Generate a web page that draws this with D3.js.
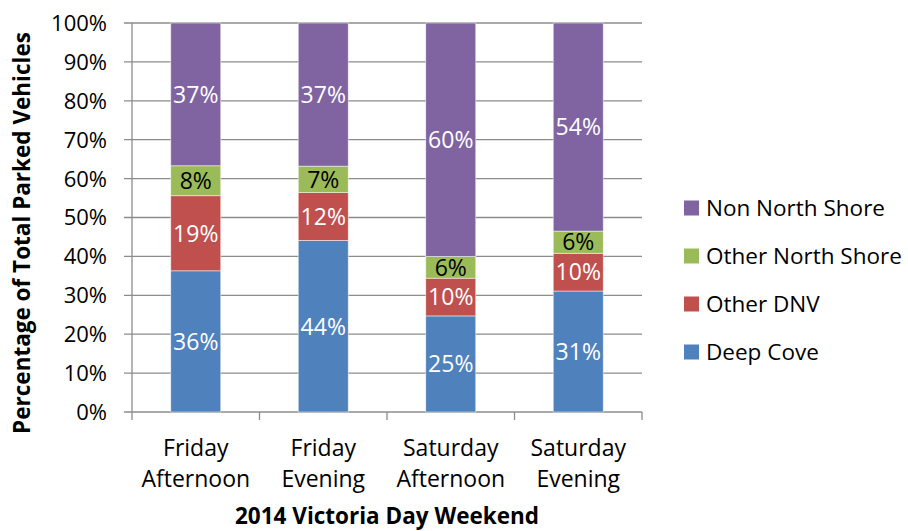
<!DOCTYPE html>
<html>
<head>
<meta charset="utf-8">
<script src="https://cdn.jsdelivr.net/npm/d3@7"></script>
<style>
  body { margin: 0; background: #fff; }
  svg text { font-family: "Open Sans", "Noto Sans", sans-serif; }
</style>
</head>
<body>
<svg id="chart" width="908" height="531"></svg>
<script>
const categories = [["Friday", "Afternoon"], ["Friday", "Evening"], ["Saturday", "Afternoon"], ["Saturday", "Evening"]];
const seriesNames = ["Deep Cove", "Other DNV", "Other North Shore", "Non North Shore"];
const deepCove = [36.3, 44.1, 24.7, 31.1];
const otherDNV = [19.3, 12.3, 9.7, 9.7];
const otherNorthShore = [7.7, 6.8, 5.6, 5.7];
const nonNorthShore = [36.7, 36.8, 60.0, 53.5];
const yTicks = [0, 10, 20, 30, 40, 50, 60, 70, 80, 90, 100];
const colors = ["#4F81BD", "#C0504D", "#9BBB59", "#8064A2"];
const labelColors = ["#fff", "#fff", "#000", "#fff"];
const xTitle = "2014 Victoria Day Weekend";
const yTitle = "Percentage of Total Parked Vehicles";

(function () {
const seriesValues = [deepCove, otherDNV, otherNorthShore, nonNorthShore];
const table = categories.map((c, i) => {
  const row = { key: i };
  seriesNames.forEach((s, j) => row[s] = seriesValues[j][i]);
  return row;
});

const svg = d3.select("#chart");
const pLeft = 132, pRight = 642, pTop = 23, pBottom = 412;

const x = d3.scaleBand().domain(d3.range(categories.length)).range([pLeft, pRight]).paddingInner(0.608).paddingOuter(0.304);
const y = d3.scaleLinear().domain([0, 100]).range([pBottom, pTop]);

svg.append("g").selectAll("line").data(yTicks).join("line")
  .attr("x1", pLeft - 8).attr("x2", pRight)
  .attr("y1", d => y(d)).attr("y2", d => y(d))
  .attr("stroke", "#8c8c8c").attr("stroke-width", 1.3);

svg.append("line").attr("x1", pLeft).attr("x2", pLeft).attr("y1", pTop).attr("y2", pBottom)
  .attr("stroke", "#8c8c8c").attr("stroke-width", 1.3);

svg.append("g").selectAll("text").data(yTicks).join("text")
  .attr("x", 107).attr("y", d => y(d)).attr("dy", "0.36em")
  .attr("text-anchor", "end").attr("font-size", 22).attr("fill", "#000")
  .text(d => d + "%");

const step = x.step();
const boundaries = d3.range(categories.length + 1).map(i => pLeft + i * step);
svg.append("g").selectAll("line").data(boundaries).join("line")
  .attr("x1", d => d).attr("x2", d => d).attr("y1", pBottom).attr("y2", pBottom + 8)
  .attr("stroke", "#8c8c8c").attr("stroke-width", 1.3);

const stacked = d3.stack().keys(seriesNames)(table);
const layers = svg.append("g").selectAll("g").data(stacked).join("g")
  .attr("fill", (d, i) => colors[i]);
layers.selectAll("rect").data(d => d).join("rect")
  .attr("x", d => x(d.data.key))
  .attr("width", x.bandwidth())
  .attr("y", d => y(d[1]))
  .attr("height", d => y(d[0]) - y(d[1]))
  .attr("stroke", "rgba(255,255,255,0.6)").attr("stroke-width", 0.8);

stacked.forEach((layer, li) => {
  svg.append("g").selectAll("text").data(layer).join("text")
    .attr("x", d => x(d.data.key) + x.bandwidth() / 2)
    .attr("y", d => (y(d[0]) + y(d[1])) / 2)
    .attr("dy", "0.36em")
    .attr("text-anchor", "middle")
    .attr("font-size", 23)
    .attr("fill", labelColors[li])
    .text(d => Math.round(d[1] - d[0]) + "%");
});

const catG = svg.append("g").selectAll("text").data(categories).join("text")
  .attr("text-anchor", "middle").attr("font-size", 23).attr("fill", "#000");
catG.each(function(d, i) {
  const t = d3.select(this);
  const cx = x(i) + x.bandwidth() / 2;
  t.append("tspan").attr("x", cx).attr("y", 456).text(d[0]);
  t.append("tspan").attr("x", cx).attr("y", 487).text(d[1]);
});

svg.append("text").attr("x", (pLeft + pRight) / 2).attr("y", 524)
  .attr("text-anchor", "middle").attr("font-size", 22.5).attr("font-weight", "bold")
  .text(xTitle);
svg.append("text").attr("transform", "translate(30, 233) rotate(-90)")
  .attr("text-anchor", "middle").attr("font-size", 22.5).attr("font-weight", "bold")
  .text(yTitle);

const legendOrder = [3, 2, 1, 0];
const lg = svg.append("g").selectAll("g").data(legendOrder).join("g")
  .attr("transform", (d, i) => `translate(684, ${208 + i * 48})`);
lg.append("rect").attr("x", 0).attr("y", -7.5).attr("width", 15).attr("height", 15)
  .attr("fill", d => colors[d]);
lg.append("text").attr("x", 22).attr("y", 0).attr("dy", "0.36em")
  .attr("font-size", 22.5).attr("fill", "#000")
  .text(d => seriesNames[d]);
})();
</script>
</body>
</html>
